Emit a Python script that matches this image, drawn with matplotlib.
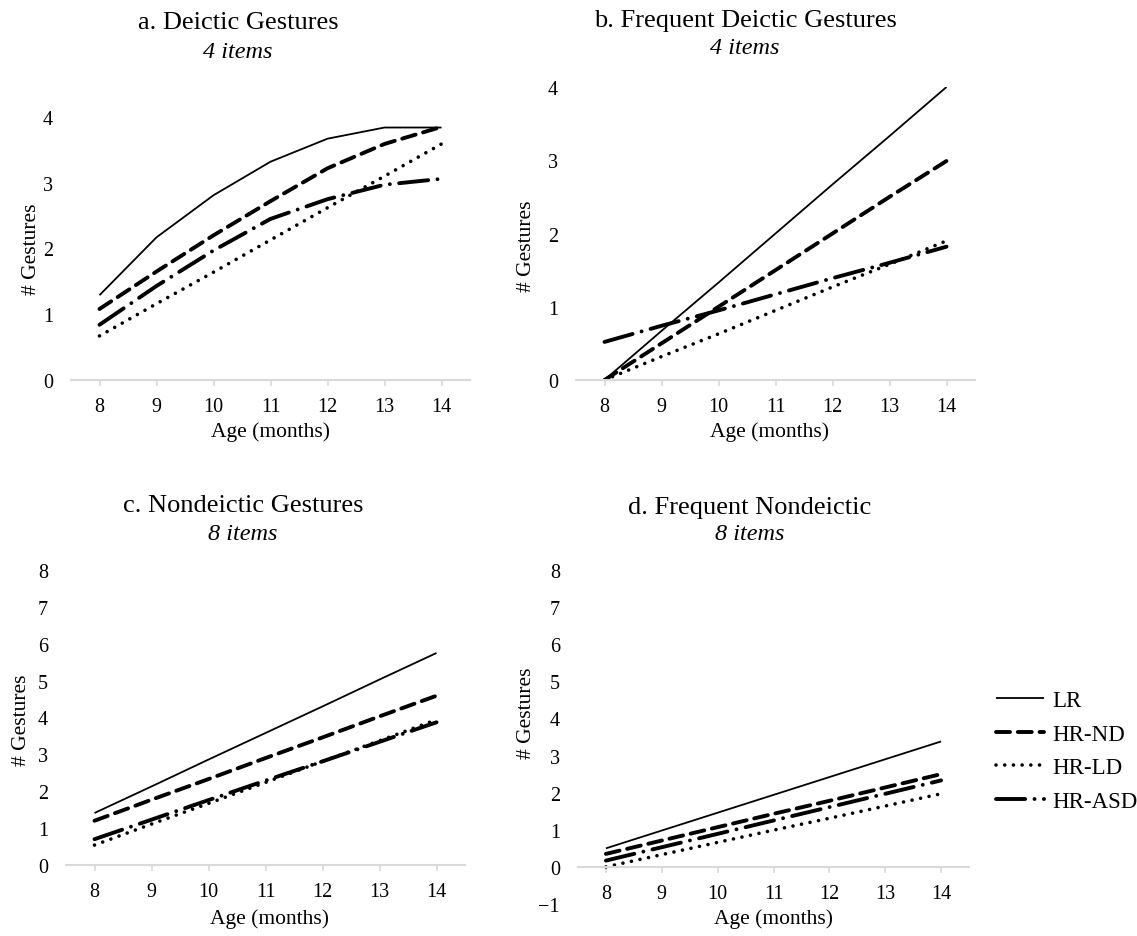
import matplotlib
matplotlib.use("Agg")
import matplotlib.pyplot as plt
import numpy as np

plt.rcParams['font.family'] = ['Liberation Serif', 'DejaVu Serif']

# age in months
ages = [8, 9, 10, 11, 12, 13, 14]

# a. Deictic Gestures
a_lr = [1.29, 2.17, 2.81, 3.32, 3.67, 3.84, 3.84]
a_nd = [1.08, 1.65, 2.20, 2.72, 3.22, 3.59, 3.85]
a_ld = [0.67, 1.16, 1.64, 2.13, 2.62, 3.10, 3.59]
a_asd = [0.84, 1.43, 1.97, 2.45, 2.75, 2.97, 3.06]

# b. Frequent Deictic Gestures
b_lr = [0.0, 0.67, 1.33, 2.00, 2.67, 3.33, 4.0]
b_nd = [0.0, 0.50, 1.00, 1.50, 2.00, 2.50, 2.99]
b_ld = [0.0, 0.32, 0.63, 0.95, 1.27, 1.58, 1.90]
b_asd = [0.52, 0.74, 0.95, 1.17, 1.39, 1.60, 1.82]

# c. Nondeictic Gestures
c_lr = [1.41, 2.13, 2.86, 3.58, 4.30, 5.03, 5.75]
c_nd = [1.20, 1.77, 2.33, 2.90, 3.46, 4.03, 4.59]
c_ld = [0.54, 1.11, 1.67, 2.24, 2.81, 3.37, 3.94]
c_asd = [0.70, 1.23, 1.76, 2.29, 2.81, 3.34, 3.87]

# d. Frequent Nondeictic
d_lr = [0.50, 0.98, 1.46, 1.94, 2.42, 2.90, 3.38]
d_nd = [0.35, 0.71, 1.07, 1.43, 1.78, 2.14, 2.50]
d_ld = [0.00, 0.33, 0.66, 0.99, 1.31, 1.64, 1.97]
d_asd = [0.17, 0.53, 0.89, 1.25, 1.61, 1.97, 2.33]

groups = ['LR', 'HR-ND', 'HR-LD', 'HR-ASD']

styles = {
    'LR': dict(lw=1.3, ls='-'),
    'HR-ND': dict(lw=2.8, ls=(0, (3.6, 2.0))),
    'HR-LD': dict(lw=2.6, ls=(0, (0.01, 2.4))),
    'HR-ASD': dict(lw=2.8, ls=(0, (7.5, 2.4, 0.01, 2.4))),
}

W, H = 1137, 937
fig = plt.figure(figsize=(W / 100, H / 100), dpi=100)


def rect(l, r, t, b):
    return [l / W, 1 - b / H, (r - l) / W, (b - t) / H]


panels = [
    dict(rect=rect(71, 470, 118, 381), data=[a_lr, a_nd, a_ld, a_asd], ylim=(0, 4),
         title='a. Deictic Gestures', sub='4 items', tpos=(238, 23, 52),
         ylab=(-0.075, 0.5), xlab=(0.5, -0.157)),
    dict(rect=rect(576, 975, 88, 381), data=[b_lr, b_nd, b_ld, b_asd], ylim=(0, 4),
         title='b. Frequent Deictic Gestures', sub='4 items', tpos=(745, 21, 49),
         ylab=(-0.1, 0.46), xlab=(0.486, -0.141)),
    dict(rect=rect(66, 465, 571, 866), data=[c_lr, c_nd, c_ld, c_asd], ylim=(0, 8),
         title='c. Nondeictic Gestures', sub='8 items', tpos=(243, 506, 535),
         ylab=(-0.088, 0.495), xlab=(0.51, -0.148)),
    dict(rect=rect(578, 969, 571, 905), data=[d_lr, d_nd, d_ld, d_asd], ylim=(-1, 8),
         title='d. Frequent Nondeictic', sub='8 items', tpos=(750, 508, 535),
         ylab=(-0.108, 0.575), xlab=(0.5, -0.014)),
]

for p in panels:
    ax = fig.add_axes(p['rect'])
    for g, vals in zip(groups, p['data']):
        st = styles[g]
        ax.plot(ages, vals, color='black', lw=st['lw'], ls=st['ls'],
                dash_capstyle='round', solid_capstyle='butt', label=g)
    ax.set_xlim(7.5, 14.5)
    ax.set_ylim(*p['ylim'])
    ax.set_xticks(ages)
    ax.set_yticks(range(int(p['ylim'][0]), int(p['ylim'][1]) + 1))
    for s in ['top', 'right', 'left']:
        ax.spines[s].set_visible(False)
    ax.spines['bottom'].set_position(('data', 0))
    ax.spines['bottom'].set_color('#d9d9d9')
    ax.spines['bottom'].set_linewidth(1.5)
    ax.tick_params(axis='x', length=4, width=1.2, color='#d9d9d9', pad=8, labelsize=14.5)
    ax.tick_params(axis='y', length=0, pad=13, labelsize=14.5)
    ax.set_xlabel('Age (months)', fontsize=15.5)
    ax.set_ylabel('# Gestures', fontsize=15.5)
    ax.xaxis.set_label_coords(*p['xlab'])
    ax.yaxis.set_label_coords(*p['ylab'])
    x, ty, sy = p['tpos']
    fig.text(x / W, 1 - ty / H, p['title'], ha='center', va='center', fontsize=19)
    fig.text(x / W, 1 - sy / H, p['sub'], ha='center', va='center', fontsize=17.5,
             style='italic')
    last = ax

handles, labels = last.get_legend_handles_labels()
fig.legend(handles, labels, loc='center left', bbox_to_anchor=(996 / W, 1 - 752 / H),
           frameon=False, fontsize=16.5, handlelength=2.1, labelspacing=0.55,
           handletextpad=0.35, borderpad=0, borderaxespad=0)

fig.savefig('out.png', dpi=100)
